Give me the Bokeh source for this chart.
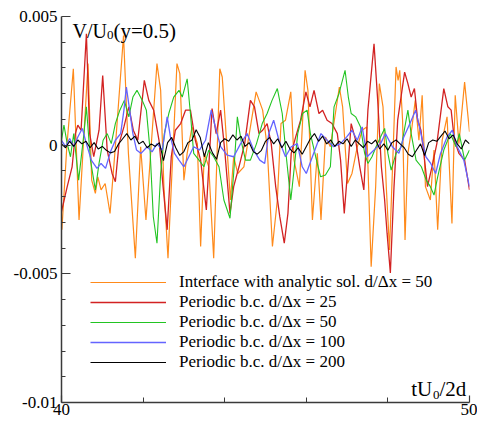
from bokeh.plotting import figure
from bokeh.models import FixedTicker, CustomJSTickFormatter, Legend, LegendItem, Label, Range1d
from bokeh.embed import file_html
from bokeh.resources import INLINE

# ---------------- data ----------------
x_ticks = [40, 50]
x_minor = [42, 44, 46, 48]
y_ticks = [-0.01, -0.005, 0, 0.005]
y_minor = [-0.009, -0.008, -0.007, -0.006, -0.004, -0.003, -0.002, -0.001,
           0.001, 0.002, 0.003, 0.004]

series_names = [
    "Interface with analytic sol. d/\u0394x = 50",
    "Periodic b.c. d/\u0394x = 25",
    "Periodic b.c. d/\u0394x = 50",
    "Periodic b.c. d/\u0394x = 100",
    "Periodic b.c. d/\u0394x = 200",
]

orange_t = [40.01, 40.13, 40.29, 40.43, 40.65, 40.74, 40.83, 40.89, 40.97, 41.07,
            41.19, 41.32, 41.52, 41.64, 41.81, 41.94, 42.07, 42.34, 42.43, 42.51,
            42.61, 42.71, 42.83, 42.90, 43.00, 43.08, 43.20, 43.33, 43.41, 43.50,
            43.61, 43.73, 43.88, 43.94, 44.06, 44.14, 44.22, 44.32, 44.47, 44.77,
            44.93, 45.04, 45.17, 45.29, 45.38, 45.49, 45.62, 45.70, 45.83, 45.97,
            46.04, 46.15, 46.27, 46.36, 46.47, 46.59, 46.81, 46.89, 47.01, 47.12,
            47.25, 47.37, 47.48, 47.59, 47.70, 47.79, 47.88, 47.96, 48.04, 48.12,
            48.20, 48.25, 48.29, 48.36, 48.42, 48.49, 48.59, 48.67, 48.76, 48.84,
            48.92, 49.04, 49.13, 49.22, 49.33, 49.45, 49.57, 49.65, 49.74, 49.88,
            50.00]
orange_v = [-3.29e-3, -0.06e-3, 2.97e-3, -2.91e-3, 3.17e-3, -1.36e-3, -1.87e-3, -1.23e-3, -1.74e-3, -1.49e-3,
            -2.65e-3, -0.06e-3, 4.26e-3, -0.32e-3, -4.39e-3, -0.06e-3, -2.91e-3, 3.17e-3, 2.13e-3, -1.61e-3,
            -4.39e-3, -0.97e-3, 3.17e-3, 2.78e-3, -1.36e-3, -0.32e-3, 0.71e-3, 0.06e-3, -3.94e-3, -0.32e-3,
            -0.84e-3, -4.39e-3, 2.97e-3, 2.65e-3, -0.19e-3, -2.13e-3, -0.45e-3, -1.10e-3, -0.84e-3, 2.07e-3,
            1.36e-3, -0.06e-3, -3.94e-3, -2.13e-3, 0.84e-3, 0.97e-3, 2.07e-3, -0.58e-3, -1.61e-3, 2.91e-3,
            2.13e-3, -2.91e-3, -0.32e-3, -2.91e-3, 0.32e-3, -0.06e-3, 2.26e-3, 1.49e-3, -1.49e-3, -1.10e-3,
            -0.06e-3, 0.58e-3, 0.71e-3, -4.72e-3, -1.61e-3, 2.39e-3, 1.49e-3, -1.61e-3, -4.07e-3, -0.58e-3,
            3.04e-3, 2.52e-3, 2.91e-3, 0.97e-3, -3.68e-3, -0.32e-3, 0.71e-3, 1.74e-3, 0.19e-3, 1.94e-3,
            -1.61e-3, -2.13e-3, -0.19e-3, -3.29e-3, 0.19e-3, 1.10e-3, -3.04e-3, 1.94e-3, 0.06e-3, 2.45e-3,
            0.52e-3]

red_t = [40.00, 40.14, 40.26, 40.34, 40.40, 40.48, 40.61, 40.69, 40.79, 40.92,
         41.01, 41.12, 41.24, 41.32, 41.41, 41.53, 41.65, 41.76, 41.87, 42.03,
         42.14, 42.26, 42.39, 42.49, 42.59, 42.69, 42.79, 42.92, 43.04, 43.16,
         43.28, 43.41, 43.55, 43.69, 43.79, 43.90, 44.00, 44.13, 44.22, 44.35,
         44.49, 44.63, 44.73, 44.84, 44.93, 45.04, 45.14, 45.25, 45.35, 45.46,
         45.55, 45.63, 45.74, 45.86, 45.99, 46.09, 46.19, 46.31, 46.40, 46.51,
         46.63, 46.76, 46.84, 46.93, 47.02, 47.10, 47.21, 47.31, 47.41, 47.51,
         47.66, 47.75, 47.84, 47.92, 47.98, 48.06, 48.15, 48.24, 48.41, 48.49,
         48.57, 48.65, 48.73, 48.81, 48.89, 48.97, 49.08, 49.20, 49.37, 49.47,
         49.55, 49.63, 49.74, 49.88, 50.00]
red_v = [-2.58e-3, -1.61e-3, -0.84e-3, 0.45e-3, 0.78e-3, 0.58e-3, 4.33e-3, 0.45e-3, -0.45e-3, 0.58e-3,
         2.71e-3, -0.19e-3, -1.10e-3, -1.42e-3, 0.06e-3, 0.71e-3, 1.49e-3, 0.58e-3, 0.19e-3, 2.52e-3,
         1.74e-3, 1.36e-3, 0.19e-3, -1.61e-3, -3.29e-3, -0.45e-3, 0.58e-3, 0.84e-3, 1.36e-3, 1.36e-3,
         0.19e-3, -0.58e-3, -2.52e-3, 1.42e-3, 0.45e-3, 1.36e-3, -0.19e-3, -2.65e-3, -1.61e-3, -0.84e-3,
         0.06e-3, 1.74e-3, 1.49e-3, 0.45e-3, 0.58e-3, 0.84e-3, 0.06e-3, -1.61e-3, -2.78e-3, -3.81e-3,
         -2.65e-3, -0.32e-3, 0.32e-3, 0.97e-3, 2.07e-3, 1.49e-3, 2.13e-3, 1.23e-3, 1.36e-3, 0.97e-3,
         0.84e-3, 0.45e-3, -0.58e-3, -2.65e-3, -0.84e-3, 0.84e-3, 0.19e-3, -0.84e-3, -1.74e-3, 1.36e-3,
         3.94e-3, 1.74e-3, -0.84e-3, -2.13e-3, -3.42e-3, -4.97e-3, -1.61e-3, 0.97e-3, 2.84e-3, 2.39e-3,
         1.87e-3, 2.20e-3, 0.97e-3, 0.58e-3, -0.45e-3, -1.61e-3, -0.84e-3, 0.06e-3, 2.20e-3, 1.49e-3,
         1.36e-3, 0.19e-3, -0.32e-3, -0.58e-3, -1.74e-3]

green_t = [40.00, 40.06, 40.14, 40.22, 40.30, 40.42, 40.55, 40.61, 40.71, 40.83,
           40.92, 41.02, 41.12, 41.22, 41.32, 41.43, 41.54, 41.65, 41.75, 41.85,
           41.98, 42.08, 42.17, 42.25, 42.34, 42.43, 42.52, 42.63, 42.75, 42.88,
           42.96, 43.08, 43.16, 43.24, 43.37, 43.49, 43.61, 43.73, 43.86, 43.98,
           44.13, 44.22, 44.31, 44.40, 44.51, 44.63, 44.78, 44.92, 45.04, 45.16,
           45.29, 45.41, 45.51, 45.62, 45.69, 45.79, 45.91, 46.02, 46.10, 46.23,
           46.35, 46.47, 46.59, 46.68, 46.80, 46.95, 47.03, 47.10, 47.21, 47.33,
           47.43, 47.51, 47.61, 47.71, 47.82, 47.92, 48.00, 48.08, 48.20, 48.33,
           48.49, 48.57, 48.69, 48.82, 48.94, 49.04, 49.13, 49.22, 49.37, 49.53,
           49.67, 49.75, 49.88, 50.00]
green_v = [0.19e-3, 0.78e-3, 0.06e-3, -0.45e-3, 0.45e-3, -1.36e-3, 0.45e-3, 1.49e-3, -0.58e-3, -1.74e-3,
           -0.71e-3, 0.19e-3, 0.45e-3, 0.06e-3, 0.84e-3, 1.36e-3, 1.74e-3, 1.10e-3, 1.87e-3, 2.13e-3,
           1.74e-3, 1.36e-3, -0.19e-3, -2.78e-3, -3.81e-3, -1.10e-3, 0.45e-3, 1.23e-3, 1.87e-3, 2.13e-3,
           1.87e-3, 2.58e-3, 1.23e-3, -0.32e-3, -0.58e-3, -0.84e-3, -0.19e-3, -0.45e-3, -0.84e-3, -2.13e-3,
           -2.84e-3, -1.10e-3, 1.10e-3, 0.19e-3, -0.58e-3, -0.58e-3, 0.06e-3, 0.84e-3, 1.23e-3, 1.74e-3,
           2.20e-3, 1.23e-3, -0.45e-3, -2.13e-3, -1.10e-3, 0.45e-3, 1.23e-3, 1.36e-3, 0.45e-3, -0.45e-3,
           -1.23e-3, -1.16e-3, -0.84e-3, 1.49e-3, 2.00e-3, 2.91e-3, 1.87e-3, 1.23e-3, 1.10e-3, 0.71e-3,
           -0.32e-3, -0.71e-3, -0.45e-3, -0.06e-3, 0.32e-3, 0.65e-3, -0.32e-3, -0.97e-3, -0.32e-3, -0.06e-3,
           1.36e-3, 0.45e-3, -0.58e-3, -0.84e-3, -1.36e-3, -1.61e-3, -1.94e-3, -1.23e-3, -0.19e-3, 0.45e-3,
           -0.06e-3, 0.45e-3, -0.58e-3, -0.19e-3]

blue_t = [40.00, 40.10, 40.20, 40.30, 40.40, 40.51, 40.61, 40.73, 40.87, 40.97,
          41.08, 41.20, 41.32, 41.45, 41.53, 41.59, 41.67, 41.75, 41.84, 41.95,
          42.10, 42.22, 42.34, 42.47, 42.59, 42.67, 42.77, 42.88, 43.00, 43.12,
          43.24, 43.38, 43.53, 43.67, 43.77, 43.90, 44.06, 44.22, 44.39, 44.55,
          44.71, 44.86, 44.98, 45.08, 45.20, 45.33, 45.49, 45.63, 45.78, 45.90,
          46.00, 46.12, 46.24, 46.36, 46.51, 46.67, 46.84, 46.99, 47.12, 47.25,
          47.37, 47.49, 47.66, 47.82, 47.94, 48.11, 48.27, 48.39, 48.54, 48.68,
          48.81, 48.93, 49.05, 49.17, 49.29, 49.45, 49.58, 49.70, 49.86, 50.00]
blue_v = [0.19e-3, -0.06e-3, 0.26e-3, -0.06e-3, 0.32e-3, 0.65e-3, 0.06e-3, -0.58e-3, -0.90e-3, -0.71e-3,
          -0.90e-3, -0.26e-3, 0.19e-3, 0.45e-3, 1.36e-3, 2.26e-3, 1.36e-3, 0.45e-3, -0.19e-3, -0.32e-3,
          -0.06e-3, -0.26e-3, 0.06e-3, -0.19e-3, 1.10e-3, 0.32e-3, -0.32e-3, -0.58e-3, -0.84e-3, -0.45e-3,
          -0.06e-3, -0.19e-3, 0.19e-3, 1.36e-3, 0.71e-3, -0.06e-3, -0.39e-3, -0.45e-3, 0.06e-3, 0.45e-3,
          -0.19e-3, -0.58e-3, -0.71e-3, 0.45e-3, 0.97e-3, 0.19e-3, -0.45e-3, -0.06e-3, 0.06e-3, -0.84e-3,
          -1.10e-3, -0.58e-3, -0.06e-3, 0.45e-3, 0.19e-3, -0.06e-3, 0.06e-3, 0.32e-3, 0.58e-3, 0.19e-3,
          0.71e-3, -0.45e-3, -0.19e-3, 0.06e-3, 0.45e-3, -0.06e-3, -0.32e-3, 0.32e-3, 0.84e-3, 1.36e-3,
          0.45e-3, -0.45e-3, -0.71e-3, -1.10e-3, -0.32e-3, 0.32e-3, 0.58e-3, -0.06e-3, -0.58e-3, -1.61e-3]

black_t = [40.0, 40.1, 40.2, 40.3, 40.4, 40.5, 40.6, 40.7, 40.8, 40.9,
           41.0, 41.1, 41.2, 41.3, 41.4, 41.5, 41.6, 41.7, 41.8, 41.9,
           42.0, 42.1, 42.2, 42.3, 42.4, 42.5, 42.6, 42.7, 42.8, 42.9,
           43.0, 43.1, 43.2, 43.3, 43.4, 43.5, 43.6, 43.7, 43.8, 43.9,
           44.0, 44.1, 44.2, 44.3, 44.4, 44.5, 44.6, 44.7, 44.8, 44.9,
           45.0, 45.1, 45.2, 45.3, 45.4, 45.5, 45.6, 45.7, 45.8, 45.9,
           46.0, 46.1, 46.2, 46.3, 46.4, 46.5, 46.6, 46.7, 46.8, 46.9,
           47.0, 47.1, 47.2, 47.3, 47.4, 47.5, 47.6, 47.7, 47.8, 47.9,
           48.0, 48.1, 48.2, 48.3, 48.4, 48.5, 48.6, 48.7, 48.8, 48.9,
           49.0, 49.1, 49.2, 49.3, 49.4, 49.5, 49.6, 49.7, 49.8, 49.9,
           50.0]
black_v = [0.05e-3, -0.10e-3, 0.15e-3, -0.05e-3, 0.20e-3, 0.05e-3, 0.15e-3, -0.10e-3, 0.10e-3, -0.15e-3,
           -0.05e-3, -0.20e-3, -0.30e-3, -0.25e-3, 0.05e-3, 0.25e-3, 0.45e-3, 0.20e-3, 0.35e-3, 0.05e-3,
           0.15e-3, -0.10e-3, 0.05e-3, -0.05e-3, 0.10e-3, -0.60e-3, 0.10e-3, 0.30e-3, -0.10e-3, -0.40e-3,
           -0.25e-3, 0.10e-3, 0.20e-3, 0.60e-3, 0.30e-3, -0.45e-3, 0.10e-3, -0.30e-3, -0.55e-3, 0.10e-3,
           0.25e-3, 0.15e-3, 0.40e-3, 0.20e-3, 0.35e-3, -0.05e-3, 0.10e-3, -0.25e-3, -0.35e-3, -0.20e-3,
           0.15e-3, 0.30e-3, 0.05e-3, 0.25e-3, -0.10e-3, 0.15e-3, -0.15e-3, -0.30e-3, -0.10e-3, -0.35e-3,
           -0.05e-3, 0.25e-3, 0.45e-3, 0.15e-3, 0.35e-3, 0.05e-3, 0.20e-3, -0.05e-3, 0.15e-3, 0.05e-3,
           0.25e-3, -0.05e-3, 0.20e-3, 0.05e-3, -0.10e-3, 0.15e-3, 0.05e-3, 0.20e-3, -0.15e-3, 0.05e-3,
           -0.20e-3, 0.10e-3, 0.20e-3, 0.05e-3, -0.10e-3, -0.35e-3, -0.45e-3, -0.20e-3, 0.05e-3, -0.40e-3,
           0.10e-3, 0.20e-3, 0.15e-3, 0.35e-3, 0.55e-3, 0.25e-3, 0.40e-3, 0.05e-3, -0.15e-3, 0.20e-3,
           0.05e-3]

# ---------------- figure ----------------
FONT = "'Liberation Serif', 'Times New Roman', serif"
AXC = "#3a3a3a"

p = figure(frame_width=408, frame_height=386, output_backend="svg", toolbar_location=None,
           x_range=Range1d(40, 50), y_range=Range1d(-0.01, 0.005),
           min_border_left=61, min_border_right=8, min_border_top=16, min_border_bottom=20,
           background_fill_color="white", border_fill_color="white")
p.outline_line_color = None
p.xgrid.visible = False
p.ygrid.visible = False

p.xaxis.ticker = FixedTicker(ticks=x_ticks, minor_ticks=x_minor)
p.yaxis.ticker = FixedTicker(ticks=y_ticks, minor_ticks=y_minor)
p.yaxis.formatter = CustomJSTickFormatter(code="return String(Math.round(tick*1e4)/1e4);")

for ax in (p.xaxis[0], p.yaxis[0]):
    ax.axis_line_color = AXC
    ax.axis_line_width = 1.5
    ax.major_tick_line_color = AXC
    ax.minor_tick_line_color = AXC
    ax.major_tick_line_width = 1.2
    ax.minor_tick_line_width = 1.0
    ax.major_tick_out = 0
    ax.minor_tick_out = 0
    ax.major_label_text_font_size = "17px"
    ax.major_label_text_color = "black"
# font test: x axis with generic serif, y axis with a quoted family name
p.xaxis.major_label_text_font = "serif"
p.yaxis.major_label_text_font = "\"Liberation Serif\""
p.yaxis.major_tick_in = 9
p.yaxis.minor_tick_in = 4
p.xaxis.major_tick_in = 7
p.xaxis.minor_tick_in = 5
p.xaxis.major_label_standoff = 1
p.yaxis.major_label_standoff = 4

r_or = p.line(orange_t, orange_v, line_color="#FF8A1A", line_width=1.2)
r_rd = p.line(red_t, red_v, line_color="#D22222", line_width=1.3)
r_gr = p.line(green_t, green_v, line_color="#22C422", line_width=1.1)
r_bl = p.line(blue_t, blue_v, line_color="#6464FF", line_width=1.3)
r_bk = p.line(black_t, black_v, line_color="black", line_width=1.1)

legend = Legend(items=[LegendItem(label=n, renderers=[r]) for n, r in
                       zip(series_names, [r_or, r_rd, r_gr, r_bl, r_bk])],
                location=(29, 30), orientation="vertical",
                glyph_width=76, glyph_height=20, label_height=20, label_standoff=13,
                spacing=0, padding=0, margin=0,
                border_line_color=None, background_fill_alpha=0,
                label_text_font=FONT, label_text_font_size="17px",
                label_text_color="black")
p.add_layout(legend)

# axis titles inside the frame
p.add_layout(Label(x=40.27, y=4.43e-3, text="V/U", text_font=FONT, text_font_size="20px",
                   text_baseline="alphabetic", text_color="black"))
p.add_layout(Label(x=41.115, y=4.264e-3, text="0", text_font=FONT, text_font_size="13px",
                   text_baseline="alphabetic", text_color="black"))
p.add_layout(Label(x=41.275, y=4.43e-3, text="(y=0.5)", text_font=FONT, text_font_size="21px",
                   text_baseline="alphabetic", text_color="black"))
p.add_layout(Label(x=48.571, y=-9.457e-3, text="tU", text_font=FONT, text_font_size="21px",
                   text_baseline="alphabetic", text_color="black"))
p.add_layout(Label(x=49.105, y=-9.69e-3, text="0", text_font=FONT, text_font_size="13px",
                   text_baseline="alphabetic", text_color="black"))
p.add_layout(Label(x=49.265, y=-9.457e-3, text="/2d", text_font=FONT, text_font_size="21px",
                   text_baseline="alphabetic", text_color="black"))

open("out.html", "w").write(file_html(p, INLINE))
